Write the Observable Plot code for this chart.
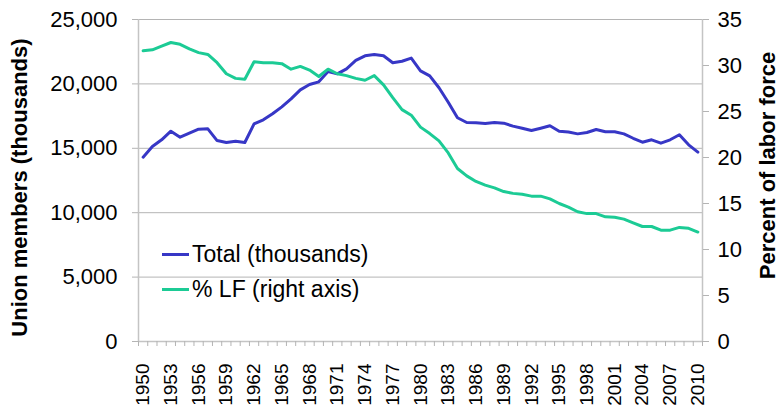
<!DOCTYPE html>
<html>
<head>
<meta charset="utf-8">
<script src="https://cdn.jsdelivr.net/npm/d3@7"></script>
<script src="https://cdn.jsdelivr.net/npm/@observablehq/plot@0.6"></script>
<style>
  html, body { margin: 0; padding: 0; background: #fff; }
  #chart { position: relative; width: 780px; height: 410px; font-family: "Liberation Sans", Arial, sans-serif; }
  .legend { position: absolute; left: 162px; top: 237px; font-size: 23px; color: #000; line-height: 35px; }
  .legend .row { display: flex; align-items: center; }
  .legend .sw { width: 27px; height: 3px; margin-right: 3px; }
</style>
</head>
<body>
<div id="chart"></div>
<script>
const years = [1950,1951,1952,1953,1954,1955,1956,1957,1958,1959,1960,1961,1962,1963,1964,1965,1966,1967,1968,1969,
  1970,1971,1972,1973,1974,1975,1976,1977,1978,1979,1980,1981,1982,1983,1984,1985,1986,1987,1988,1989,
  1990,1991,1992,1993,1994,1995,1996,1997,1998,1999,2000,2001,2002,2003,2004,2005,2006,2007,2008,2009,2010];

const members = [14310,15140,15660,16330,15860,16170,16480,16510,15600,15450,15550,15450,16900,17210,17680,18220,18840,19540,19950,20160,
  20960,20780,21170,21820,22180,22280,22180,21640,21760,22000,21010,20620,19700,18580,17370,17000,16980,16930,17000,16950,
  16720,16560,16380,16560,16750,16330,16260,16120,16230,16460,16280,16280,16120,15780,15470,15660,15400,15660,16050,15270,14700];

const pctLF = [31.6,31.7,32.1,32.5,32.3,31.8,31.4,31.2,30.3,29.1,28.6,28.5,30.4,30.3,30.3,30.2,29.6,29.9,29.5,28.8,
  29.6,29.1,28.9,28.6,28.4,28.9,27.9,26.5,25.2,24.6,23.3,22.6,21.8,20.5,18.8,18.0,17.4,17.0,16.7,16.3,
  16.1,16.0,15.8,15.8,15.5,15.0,14.6,14.1,13.9,13.9,13.55,13.5,13.3,12.9,12.5,12.5,12.1,12.1,12.4,12.3,11.9];

const leftTicks = [0,5000,10000,15000,20000,25000];
const rightTicks = [0,5,10,15,20,25,30,35];
const yearLabels = [1950,1953,1956,1959,1962,1965,1968,1971,1974,1977,1980,1983,1986,1989,1992,1995,1998,2001,2004,2007,2010];

const seriesNames = ["Total (thousands)", "% LF (right axis)"];
const colors = ["#3737c6", "#1ccb95"];

const leftMax = 25000, rightMax = 35;
const toLeft = v => v * leftMax / rightMax;

const data = years.map((y, i) => ({year: y, members: members[i], pct: pctLF[i]}));
const tickEdges = years.map(y => y - 0.5).concat([years[years.length - 1] + 0.5]);

const plot = Plot.plot({
  width: 780,
  height: 410,
  marginLeft: 138,
  marginRight: 78,
  marginTop: 19,
  marginBottom: 69,
  style: {fontFamily: '"Liberation Sans", Arial, sans-serif', color: "#000", background: "#fff"},
  x: {domain: [years[0] - 0.5, years[years.length - 1] + 0.5]},
  y: {domain: [0, leftMax]},
  marks: [
    Plot.ruleY(leftTicks, {stroke: "#b4b4b4", strokeWidth: 1}),
    Plot.ruleX([years[0] - 0.5, years[years.length - 1] + 0.5], {stroke: "#c4c4c4", strokeWidth: 1.5}),
    Plot.ruleY([0], {stroke: "#c4c4c4", strokeWidth: 1.5}),
    Plot.axisY({anchor: "left", ticks: leftTicks, tickFormat: d3.format(","), tickSize: 6, tickPadding: 15,
      fontSize: 22, stroke: "#b4b4b4", label: "Union members (thousands)", labelAnchor: "center", labelArrow: "none",
      labelOffset: 127}),
    Plot.axisY({anchor: "right", ticks: rightTicks.map(toLeft), tickFormat: d => Math.round(d * rightMax / leftMax),
      tickSize: 6, tickPadding: 9, fontSize: 22, stroke: "#b4b4b4", label: "Percent of labor force",
      labelAnchor: "center", labelArrow: "none", labelOffset: 72}),
    Plot.axisX({ticks: tickEdges, tickSize: 5, tickFormat: () => "", stroke: "#b4b4b4", label: null}),
    Plot.axisX({ticks: yearLabels, tickSize: 0, tickPadding: 22, tickRotate: -90, fontSize: 19,
      tickFormat: d => String(d), label: null}),
    Plot.line(data, {x: "year", y: "members", stroke: colors[0], strokeWidth: 3}),
    Plot.line(data, {x: "year", y: d => toLeft(d.pct), stroke: colors[1], strokeWidth: 3})
  ]
});

// bold axis titles, shifted vertically as in the reference
const labels = d3.select(plot).selectAll('g[aria-label="y-axis label"]');
labels.selectAll("text").attr("font-weight", "bold").attr("font-size", 22);
labels.each(function(_, i) {
  const shift = i === 0 ? 7 : -15;
  const g = d3.select(this);
  const prev = g.attr("transform") || "";
  g.attr("transform", `translate(0,${shift}) ${prev}`);
});

const chart = document.getElementById("chart");
chart.appendChild(plot);
const legend = document.createElement("div");
legend.className = "legend";
seriesNames.forEach((name, i) => {
  const row = document.createElement("div");
  row.className = "row";
  const sw = document.createElement("span");
  sw.className = "sw";
  sw.style.background = colors[i];
  const tx = document.createElement("span");
  tx.textContent = name;
  row.appendChild(sw);
  row.appendChild(tx);
  legend.appendChild(row);
});
chart.appendChild(legend);
</script>
</body>
</html>
